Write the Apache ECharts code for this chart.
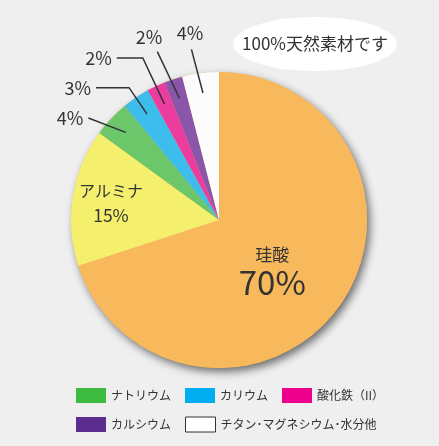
<!DOCTYPE html>
<html>
<head>
<meta charset="utf-8">
<title>成分</title>
<script src="https://cdn.jsdelivr.net/npm/echarts@6/dist/echarts.min.js"></script>
<style>
    html, body {
        margin: 0;
        padding: 0;
        width: 100%;
        height: 100%;
        overflow: hidden;
        background: #efefef;
    }
    #chart {
        width: 439px;
        height: 446px;
    }
</style>
</head>
<body>
<div id="chart"></div>
<script>
    // data
    var names = ['珪酸', 'アルミナ', 'ナトリウム', 'カリウム', '酸化鉄（II）', 'カルシウム', 'チタン･マグネシウム･水分他'];
    var values = [70, 15, 4, 3, 2, 2, 4];
    var legendNames = names.slice(2);

    // styles
    var sliceColors = ['#f7b95c', '#f4f06e', '#6bc76a', '#3cbdeb', '#ec3c9f', '#8a56aa', '#fcfcfc'];
    var legendColors = ['#3dbb41', '#00adef', '#ec008c', '#5c2d91', '#ffffff'];
    var font = '"Noto Sans CJK JP", "Noto Sans", sans-serif';
    var center = [219, 220];

    // leader lines of the small slices (index -> line lengths, label shift)
    var leader = {
        2: {length: 21, length2: 22, straight: true},
        3: {length: 32, length2: 33},
        4: {length: 51, length2: 26},
        5: {length: 49, length2: 7, straight: true, dx: 10, dy: -15},
        6: {length: 44, length2: 6, straight: true, dx: 17, dy: -16}
    };
    // shift of the labels inside the two big slices
    var innerShift = {
        0: {dx: -9, dy: 6},
        1: {dx: -32, dy: -5}
    };

    var mainData = names.map(function (n, i) {
        return {
            name: n,
            value: values[i],
            itemStyle: {color: sliceColors[i]},
            label: {show: i < 2}
        };
    });

    var outerData = names.map(function (n, i) {
        var c = leader[i];
        return {
            name: n,
            value: values[i],
            label: {show: !!c},
            labelLine: c ? {show: true, length: c.length, length2: c.length2} : {show: false}
        };
    });

    var chart = echarts.init(document.getElementById('chart'));
    var option = {
        backgroundColor: '#efefef',
        animation: false,
        textStyle: {fontFamily: font},
        legend: {
            left: 71,
            top: 383,
            width: 320,
            itemWidth: 30,
            itemHeight: 15,
            itemGap: 14,
            icon: 'rect',
            selectedMode: false,
            textStyle: {fontSize: 12, color: '#333', fontFamily: font},
            data: legendNames.map(function (n, i) {
                var st = {color: legendColors[i]};
                if (i === 4) {
                    st.borderColor = '#333';
                    st.borderWidth = 1;
                }
                return {name: n, itemStyle: st};
            })
        },
        graphic: [
            {
                type: 'ellipse',
                shape: {cx: 315, cy: 44, rx: 82, ry: 27},
                style: {fill: '#ffffff'}
            },
            {
                type: 'text',
                x: 315,
                y: 44,
                style: {
                    text: '100%天然素材です',
                    fill: '#333',
                    font: '17px ' + font,
                    align: 'center',
                    verticalAlign: 'middle'
                }
            }
        ],
        series: [
            {
                // shadow under the whole disc
                type: 'pie',
                center: center,
                radius: 148,
                silent: true,
                label: {show: false},
                labelLine: {show: false},
                itemStyle: {
                    color: sliceColors[0],
                    shadowBlur: 9,
                    shadowOffsetX: 3,
                    shadowOffsetY: 4,
                    shadowColor: 'rgba(0,0,0,0.55)'
                },
                data: [{name: '', value: 1}]
            },
            {
                type: 'pie',
                center: center,
                radius: 148,
                startAngle: 90,
                clockwise: true,
                silent: true,
                avoidLabelOverlap: false,
                emphasis: {disabled: true},
                label: {
                    position: 'inside',
                    color: '#333',
                    formatter: function (p) {
                        if (p.dataIndex === 0) return '{a|' + p.name + '}\n{big|' + p.value + '%}';
                        return '{s|' + p.name + '}\n{p|' + p.value + '%}';
                    },
                    rich: {
                        a: {fontSize: 17, lineHeight: 22, color: '#333', fontFamily: font, align: 'center'},
                        big: {fontSize: 33, lineHeight: 34, color: '#333', fontFamily: font, align: 'center'},
                        s: {fontSize: 16, lineHeight: 24, color: '#333', fontFamily: font, align: 'center'},
                        p: {fontSize: 17.5, lineHeight: 24, color: '#333', fontFamily: font, align: 'center'}
                    }
                },
                labelLine: {show: false},
                labelLayout: function (p) {
                    var s = innerShift[p.dataIndex];
                    return s ? {dx: s.dx, dy: s.dy} : {};
                },
                data: mainData
            },
            {
                // transparent copy that carries the outside labels
                type: 'pie',
                z: 5,
                center: center,
                radius: 128,
                startAngle: 90,
                clockwise: true,
                silent: true,
                avoidLabelOverlap: false,
                emphasis: {disabled: true},
                itemStyle: {color: 'rgba(0,0,0,0)'},
                label: {
                    position: 'outside',
                    color: '#333',
                    fontSize: 18,
                    fontFamily: font,
                    formatter: '{c}%'
                },
                labelLine: {lineStyle: {color: '#333', width: 1.5}},
                labelLayout: function (p) {
                    var c = leader[p.dataIndex];
                    if (!c || !p.labelLinePoints) return {};
                    var pts = p.labelLinePoints;
                    return {
                        dx: c.dx || 0,
                        dy: c.dy || 0,
                        labelLinePoints: c.straight ? [pts[0], pts[2]] : pts
                    };
                },
                data: outerData
            }
        ]
    };
    chart.setOption(option);
</script>
</body>
</html>
